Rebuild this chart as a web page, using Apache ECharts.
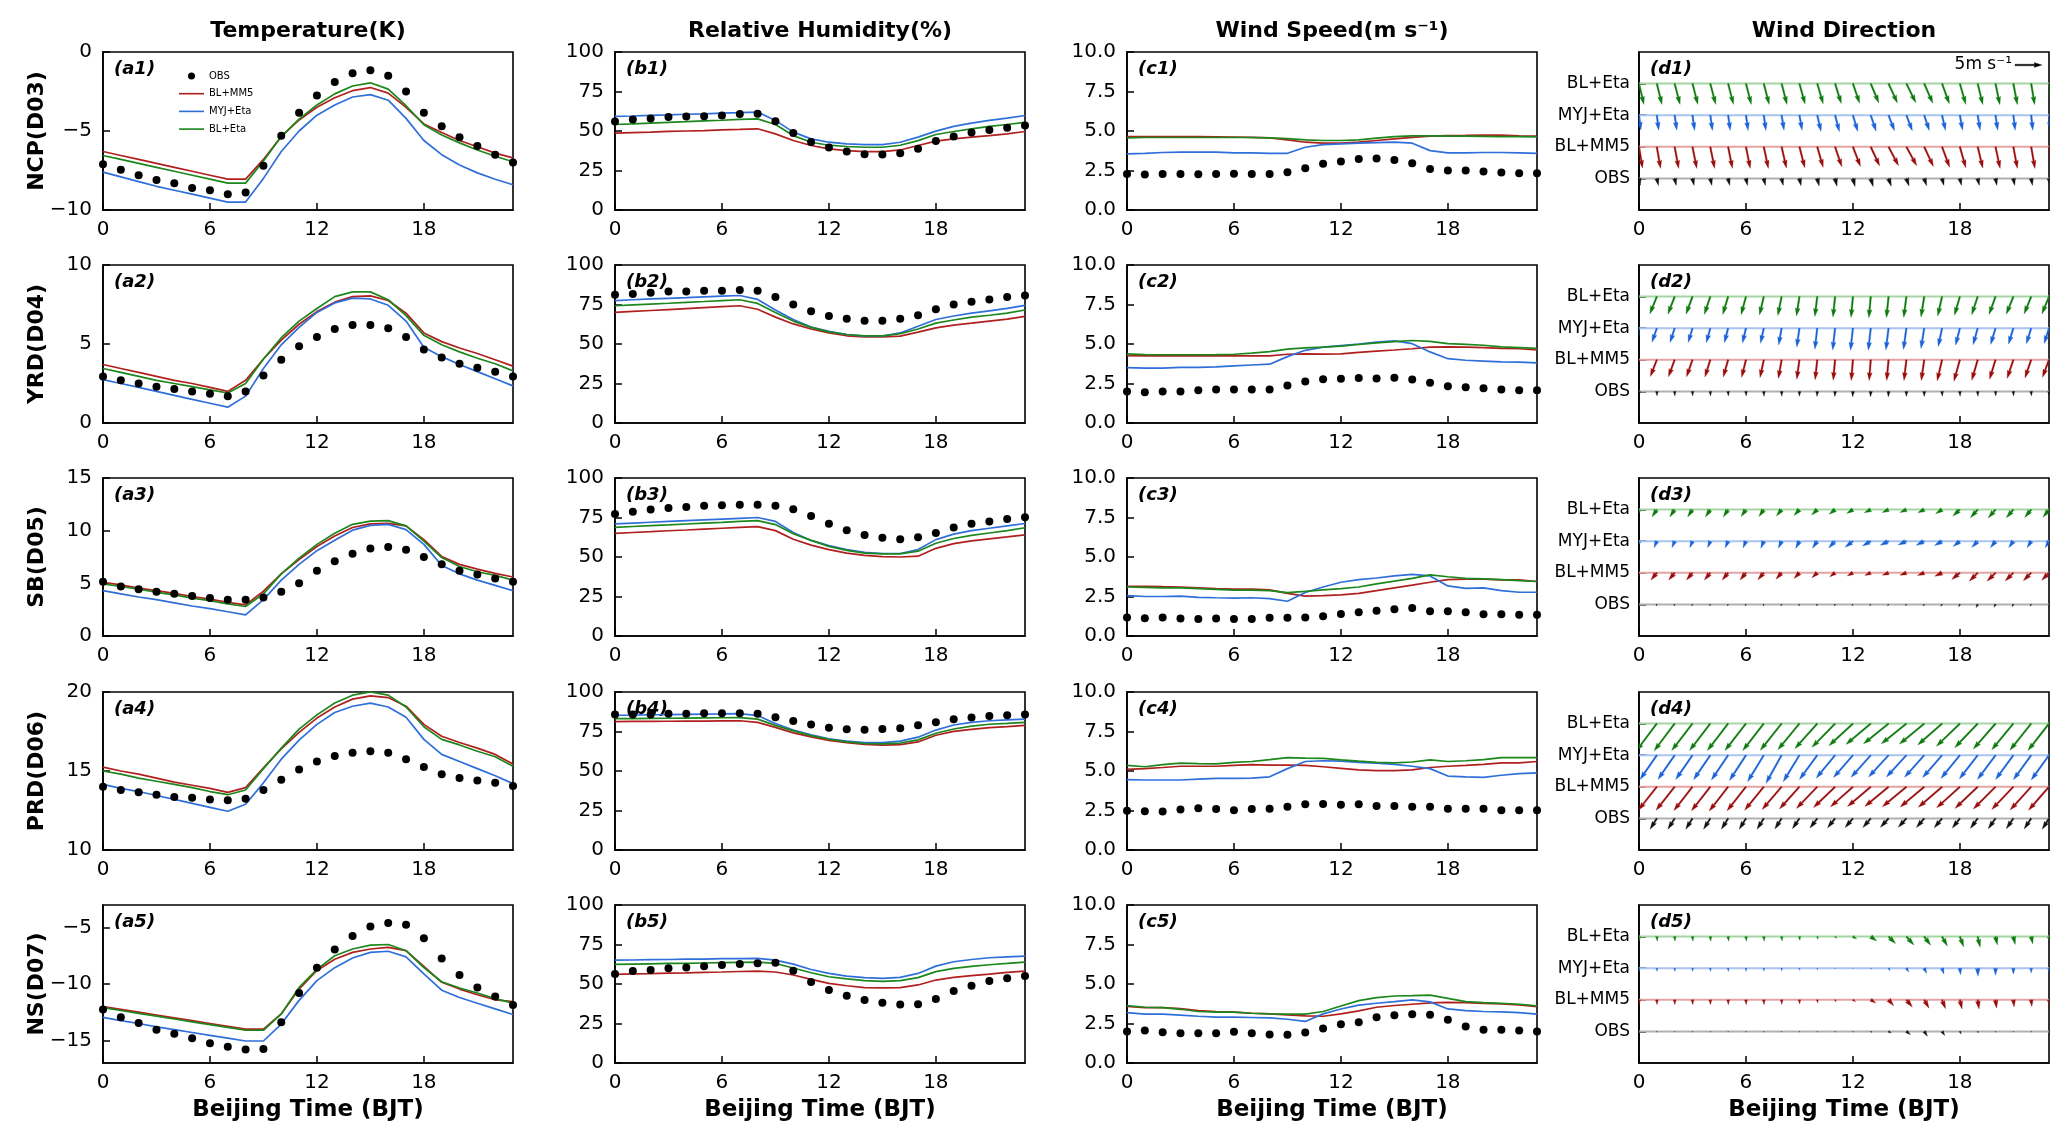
<!DOCTYPE html>
<html><head><meta charset="utf-8">
<script src="https://cdn.jsdelivr.net/npm/echarts@6/dist/echarts.min.js"></script>
<style>html,body{margin:0;padding:0;background:#fff}#c{width:2067px;height:1144px}</style>
</head><body><div id="c"></div>
<script>
// ---------------- DATA ----------------
const hours = [0,1,2,3,4,5,6,7,8,9,10,11,12,13,14,15,16,17,18,19,20,21,22,23];
const regions = ['NCP(D03)','YRD(D04)','SB(D05)','PRD(D06)','NS(D07)'];
const columnTitles = ['Temperature(K)','Relative Humidity(%)','Wind Speed(m s\u207B\u00B9)','Wind Direction'];
const seriesNames = ['OBS','BL+MM5','MYJ+Eta','BL+Eta'];
const panelLetters = ['a','b','c','d'];
const xTicks = [0,6,12,18];
const tempRange = [[-10,0],[0,10],[0,15],[10,20],[-17,-3]];
const tempTicks = [[-10,-5,0],[0,5,10],[0,5,10,15],[10,15,20],[-15,-10,-5]];
const rhTicks = [0,25,50,75,100];
const wsTicks = [0,2.5,5,7.5,10];
const dirLevels = [2,4,6,8];          // OBS, BL+MM5, MYJ+Eta, BL+Eta rows of the wind-direction panels
const keySpeed = 5;                   // reference arrow, m s-1

// Temperature (rows: NCP, YRD, SB, PRD, NS)
const tempObs = [
 [-7.1,-7.45,-7.8,-8.1,-8.3,-8.6,-8.75,-9.0,-8.9,-7.2,-5.3,-3.85,-2.75,-1.9,-1.35,-1.15,-1.5,-2.5,-3.85,-4.7,-5.4,-5.95,-6.5,-7.0],
 [2.95,2.7,2.5,2.3,2.15,2.0,1.85,1.7,2.0,3.0,4.0,4.85,5.45,5.95,6.2,6.2,6.0,5.45,4.65,4.15,3.75,3.5,3.25,2.95],
 [5.15,4.7,4.45,4.2,4.0,3.8,3.6,3.45,3.45,3.65,4.2,5.0,6.2,7.1,7.8,8.3,8.45,8.2,7.5,6.8,6.2,5.85,5.45,5.15],
 [14.0,13.8,13.65,13.5,13.35,13.3,13.2,13.15,13.25,13.8,14.45,15.1,15.6,15.95,16.15,16.25,16.15,15.75,15.25,14.8,14.55,14.4,14.25,14.05],
 [-12.25,-12.95,-13.45,-14.05,-14.4,-14.8,-15.25,-15.55,-15.8,-15.75,-13.4,-10.8,-8.55,-6.95,-5.75,-4.9,-4.6,-4.75,-5.95,-7.75,-9.2,-10.3,-11.1,-11.85]
];
const tempMM5 = [
 [-6.3,-6.55,-6.8,-7.05,-7.3,-7.55,-7.8,-8.05,-8.05,-6.8,-5.35,-4.3,-3.5,-2.9,-2.45,-2.25,-2.6,-3.5,-4.55,-5.1,-5.6,-6.0,-6.4,-6.7],
 [3.7,3.45,3.2,2.95,2.7,2.5,2.25,2.0,2.7,4.05,5.25,6.25,7.05,7.65,8.0,8.05,7.75,6.95,5.7,5.15,4.75,4.4,4.0,3.6],
 [5.1,4.85,4.55,4.3,4.05,3.75,3.5,3.2,2.95,4.25,5.9,7.25,8.5,9.5,10.3,10.65,10.7,10.45,9.15,7.55,6.8,6.35,5.95,5.6],
 [15.25,15.0,14.8,14.55,14.3,14.1,13.9,13.65,13.95,15.2,16.4,17.45,18.35,19.05,19.55,19.75,19.65,19.1,17.95,17.2,16.8,16.45,16.05,15.45],
 [-12.0,-12.25,-12.5,-12.75,-13.0,-13.25,-13.5,-13.75,-14.0,-14.0,-12.65,-10.45,-8.8,-7.8,-7.2,-6.9,-6.75,-7.05,-8.45,-9.85,-10.45,-10.95,-11.4,-11.55]
];
const tempMYJ = [
 [-7.6,-7.9,-8.2,-8.5,-8.75,-9.0,-9.25,-9.5,-9.5,-8.0,-6.3,-5.0,-4.0,-3.35,-2.85,-2.7,-3.05,-4.2,-5.6,-6.5,-7.15,-7.65,-8.05,-8.4],
 [2.75,2.5,2.25,2.0,1.75,1.5,1.25,1.0,1.7,3.45,4.95,6.05,7.0,7.6,7.9,7.85,7.45,6.45,4.8,4.2,3.7,3.25,2.8,2.35],
 [4.3,4.0,3.7,3.45,3.15,2.85,2.6,2.3,2.0,3.45,5.3,6.8,8.1,9.1,10.05,10.5,10.6,10.1,8.7,6.7,5.9,5.3,4.8,4.3],
 [14.15,13.9,13.7,13.45,13.2,12.95,12.7,12.45,12.9,14.25,15.75,16.95,17.95,18.7,19.1,19.3,19.05,18.4,17.0,16.05,15.6,15.15,14.7,14.2],
 [-12.95,-13.25,-13.5,-13.8,-14.05,-14.3,-14.55,-14.8,-15.05,-15.05,-13.55,-11.45,-9.7,-8.55,-7.7,-7.2,-7.1,-7.6,-9.1,-10.55,-11.2,-11.7,-12.2,-12.7]
];
const tempEta = [
 [-6.55,-6.8,-7.05,-7.3,-7.55,-7.8,-8.05,-8.3,-8.3,-6.9,-5.35,-4.25,-3.35,-2.65,-2.15,-1.95,-2.35,-3.4,-4.6,-5.25,-5.75,-6.2,-6.6,-6.95],
 [3.45,3.2,2.95,2.7,2.5,2.3,2.1,1.9,2.5,4.05,5.4,6.45,7.25,8.0,8.3,8.3,7.8,6.8,5.55,4.95,4.5,4.1,3.75,3.3],
 [4.95,4.7,4.45,4.15,3.9,3.6,3.35,3.05,2.8,4.0,5.9,7.4,8.7,9.75,10.6,10.9,10.95,10.45,9.0,7.45,6.6,6.1,5.75,5.3],
 [15.0,14.8,14.55,14.35,14.15,13.95,13.7,13.5,13.8,15.15,16.45,17.65,18.55,19.3,19.8,20.0,19.8,19.05,17.8,17.0,16.65,16.25,15.9,15.3],
 [-12.1,-12.35,-12.6,-12.85,-13.1,-13.35,-13.6,-13.85,-14.1,-14.1,-12.65,-10.3,-8.7,-7.5,-6.9,-6.55,-6.5,-7.05,-8.55,-9.8,-10.35,-10.8,-11.3,-11.7]
];

// Relative humidity
const rhObs = [
 [56,57.3,57.9,58.8,59.2,59.4,59.8,60.7,60.9,56.2,48.8,43.1,39.5,37,35.3,35.1,35.9,38.7,43.6,46.5,49,50.7,52,53.5],
 [81.2,81.7,82.5,83.2,83.2,83.7,83.7,84.2,83.7,79.7,75,70.7,67.7,66,64.7,64.7,66,68.2,72,75,76.7,78.2,79.7,80.7],
 [77.2,78.7,80,81,81.7,82.5,82.7,83,83,82.5,80.2,76,71,67,64,62.2,61.2,62.5,65.2,68.7,71,72.5,74,75.2],
 [85.8,85.8,85.8,86.3,86.3,86.6,86.6,86.6,86.3,84,81.6,79.4,77.4,76.4,76.1,76.6,77.1,78.9,80.8,82.8,83.8,84.8,85.3,85.8],
 [56.3,58.2,58.8,59.9,60.5,61.3,62,62.6,63.2,63.4,58.4,51.3,46.2,42.6,39.9,38.2,37,37.2,40.5,45.6,48.9,51.9,53.6,55]
];
const rhMM5 = [
 [48.6,49,49.3,49.7,50,50.3,50.7,51,51.4,48.2,44,40.8,38.7,37.6,37,37,38,40.8,43.6,45,46.1,47.1,48.2,49.7],
 [70,70.6,71.2,71.8,72.4,73,73.6,74.2,72,67,62.7,59.5,57,55.2,54.5,54.5,55,57.5,60.2,62,63.2,64.5,65.7,67.5],
 [65,65.5,66,66.6,67.1,67.7,68.2,68.7,69.2,66.7,61.2,57.5,54.7,52.5,51,50.2,50,50.5,55.5,58.5,60.2,61.5,62.7,64],
 [81.3,81.4,81.4,81.5,81.6,81.6,81.7,81.8,80.8,77.6,74.1,71.6,69.4,67.9,66.9,66.4,66.7,68.4,72.6,75.1,76.4,77.4,78.1,78.9],
 [56.1,56.4,56.6,56.9,57.1,57.4,57.6,57.9,58.2,57.6,55.7,52.9,50.4,48.9,47.7,47.5,47.7,49.4,52.5,54.2,55.3,56.3,57.4,58.2]
];
const rhMYJ = [
 [59.2,59.5,59.9,60.2,60.6,60.9,61.3,61.6,62,56.7,49.3,45,42.9,41.9,41.4,41.4,42.9,46.1,49.9,52.9,55,56.7,58.1,59.8],
 [77.5,78,78.5,78.9,79.3,79.8,80.3,80.7,78.2,71.5,65.5,60.7,58,56,55,55,57,61.2,65.5,67.7,69.5,71,72.5,74.5],
 [71,71.5,72,72.5,73,73.5,74,74.5,75,72.5,65.5,60.5,57.2,54.7,53,52.2,52.2,54.7,61,64.5,66.7,68.2,69.7,71.2],
 [85.3,85.4,85.6,85.7,85.9,86,86.1,86.3,85.1,80.1,75.9,72.9,70.4,68.9,67.9,67.9,68.9,71.4,75.9,79.1,80.8,81.8,82.3,82.8],
 [65.1,65.2,65.4,65.5,65.7,65.8,66,66.1,66.2,65.1,62.6,59.2,56.7,55,54,53.6,54.2,56.7,61.3,64.1,65.5,66.6,67.2,67.6]
];
const rhEta = [
 [54.1,54.5,55,55.5,55.9,56.4,56.8,57.3,57.7,54.1,47.1,42.9,41,40.2,39.7,39.7,41,43.9,47.8,49.7,51.4,52.9,54.1,55.4],
 [74.2,74.8,75.3,75.8,76.4,76.9,77.5,78,75.7,70,64.5,60.5,57.7,56,55.2,55.2,56.5,59.5,63.2,65.2,67,68.2,69.5,71.5],
 [68.7,69.3,69.8,70.3,70.9,71.4,71.9,72.5,73,70.5,64.7,60.5,56.7,54.2,52.5,52,52,53.7,58.7,61.7,63.7,65.2,66.7,68.5],
 [83.1,83.2,83.3,83.4,83.5,83.6,83.7,83.8,82.8,78.9,75.4,72.4,70.1,68.4,67.4,67.2,67.7,69.7,73.9,76.6,78.4,79.6,80.1,80.8],
 [62.4,62.6,62.8,63,63.1,63.3,63.5,63.7,63.9,63,60.1,57.1,54.6,53.2,52.1,51.7,52.1,54,57.8,59.9,61.1,62.2,63,63.9]
];

// Wind speed
const wsObs = [
 [2.28,2.24,2.28,2.28,2.26,2.28,2.3,2.28,2.28,2.39,2.64,2.92,3.07,3.23,3.26,3.17,2.96,2.6,2.5,2.5,2.43,2.37,2.32,2.32],
 [2.0,1.95,2.0,2.0,2.07,2.12,2.12,2.12,2.12,2.37,2.62,2.77,2.8,2.85,2.82,2.87,2.75,2.55,2.32,2.27,2.2,2.12,2.07,2.07],
 [1.17,1.12,1.17,1.1,1.07,1.1,1.07,1.07,1.15,1.15,1.17,1.25,1.4,1.5,1.6,1.7,1.77,1.57,1.57,1.5,1.37,1.37,1.35,1.35],
 [2.49,2.46,2.44,2.56,2.64,2.59,2.51,2.59,2.61,2.74,2.89,2.91,2.86,2.89,2.79,2.79,2.74,2.74,2.61,2.61,2.61,2.51,2.51,2.51],
 [2.0,2.06,1.95,1.89,1.89,1.89,1.97,1.89,1.81,1.79,1.93,2.18,2.46,2.58,2.9,3.03,3.09,3.05,2.73,2.31,2.1,2.1,2.06,2.0]
];
const wsMM5 = [
 [4.65,4.65,4.65,4.64,4.64,4.63,4.62,4.6,4.57,4.44,4.29,4.23,4.23,4.29,4.4,4.5,4.6,4.67,4.71,4.72,4.74,4.74,4.7,4.67],
 [4.27,4.25,4.25,4.25,4.25,4.25,4.25,4.25,4.25,4.35,4.37,4.36,4.37,4.47,4.55,4.62,4.7,4.8,4.82,4.8,4.77,4.72,4.7,4.62],
 [3.15,3.15,3.12,3.1,3.05,3.0,2.97,2.97,2.92,2.7,2.52,2.55,2.6,2.7,2.87,3.05,3.22,3.4,3.57,3.6,3.6,3.55,3.55,3.45],
 [5.1,5.15,5.22,5.3,5.3,5.3,5.35,5.4,5.37,5.37,5.35,5.27,5.17,5.07,5.02,5.02,5.07,5.22,5.3,5.35,5.42,5.52,5.52,5.6],
 [3.59,3.51,3.51,3.45,3.32,3.26,3.22,3.15,3.11,3.05,2.98,2.96,3.11,3.3,3.53,3.64,3.72,3.8,3.84,3.82,3.78,3.74,3.68,3.57]
];
const wsMYJ = [
 [3.55,3.59,3.64,3.66,3.66,3.66,3.62,3.62,3.59,3.59,3.97,4.14,4.19,4.23,4.27,4.29,4.23,3.76,3.62,3.62,3.64,3.64,3.62,3.59],
 [3.5,3.47,3.47,3.52,3.52,3.55,3.62,3.67,3.72,4.2,4.6,4.8,4.9,5.0,5.12,5.2,5.02,4.5,4.07,3.97,3.92,3.87,3.85,3.8],
 [2.55,2.5,2.5,2.52,2.45,2.42,2.4,2.42,2.37,2.2,2.75,3.1,3.4,3.57,3.67,3.8,3.9,3.8,3.17,3.02,3.05,2.87,2.77,2.77],
 [4.45,4.43,4.43,4.43,4.48,4.53,4.53,4.55,4.63,5.15,5.6,5.65,5.62,5.55,5.5,5.42,5.3,5.15,4.68,4.63,4.6,4.73,4.83,4.88],
 [3.19,3.09,3.09,3.03,2.96,2.9,2.9,2.88,2.86,2.77,2.63,3.11,3.42,3.66,3.78,3.88,3.99,3.87,3.42,3.32,3.26,3.24,3.19,3.09]
];
const wsEta = [
 [4.57,4.59,4.59,4.59,4.59,4.59,4.59,4.59,4.57,4.52,4.44,4.4,4.4,4.44,4.55,4.65,4.69,4.69,4.67,4.67,4.66,4.65,4.64,4.63],
 [4.37,4.33,4.32,4.32,4.32,4.33,4.35,4.42,4.52,4.67,4.75,4.8,4.87,4.97,5.07,5.15,5.22,5.17,5.02,4.97,4.92,4.82,4.77,4.72],
 [3.1,3.08,3.05,3.04,3.0,2.95,2.9,2.9,2.87,2.75,2.82,2.92,3.0,3.1,3.3,3.47,3.65,3.87,3.75,3.65,3.62,3.57,3.5,3.45],
 [5.35,5.27,5.4,5.5,5.47,5.45,5.55,5.6,5.72,5.85,5.82,5.8,5.7,5.62,5.55,5.52,5.57,5.7,5.6,5.65,5.72,5.85,5.85,5.85],
 [3.63,3.53,3.51,3.4,3.26,3.22,3.22,3.15,3.11,3.09,3.09,3.26,3.61,3.95,4.14,4.24,4.26,4.3,4.09,3.88,3.82,3.78,3.72,3.61]
];

// Mean wind vectors (u eastward, v northward; m s-1)
const uObs = [
 [0.25,0.3,0.3,0.3,0.3,0.3,0.3,0.3,0.3,0.3,0.35,0.35,0.4,0.45,0.5,0.5,0.45,0.35,0.3,0.3,0.25,0.25,0.25,0.25],
 [0.05,0.05,0.05,0.05,0.05,0.05,0.05,0.05,0.05,0,-0.05,-0.05,-0.05,-0.05,-0.05,0,0,0.05,0.05,0.05,0.05,0.05,0.05,0.05],
 [-0.15,-0.15,-0.15,-0.15,-0.15,-0.15,-0.15,-0.15,-0.15,-0.15,-0.15,-0.15,-0.2,-0.2,-0.2,-0.2,-0.2,-0.25,-0.25,-0.3,-0.3,-0.25,-0.2,-0.15],
 [-1.25,-1.25,-1.25,-1.25,-1.25,-1.25,-1.25,-1.25,-1.25,-1.3,-1.35,-1.4,-1.45,-1.45,-1.5,-1.5,-1.45,-1.45,-1.4,-1.35,-1.35,-1.3,-1.3,-1.25],
 [0,0,0,0,0,0,0,0,0,0,0,0.05,0.1,0.2,0.5,0.75,0.6,0.5,0.25,0.1,0.05,0.05,0,0]
];
const vObs = [
 [-1.3,-1.3,-1.3,-1.3,-1.3,-1.3,-1.3,-1.3,-1.3,-1.35,-1.4,-1.45,-1.5,-1.5,-1.45,-1.4,-1.35,-1.3,-1.3,-1.3,-1.3,-1.3,-1.3,-1.3],
 [-0.85,-0.85,-0.85,-0.85,-0.85,-0.85,-0.85,-0.9,-0.9,-0.9,-0.95,-0.95,-1.0,-1.0,-1.0,-0.95,-0.95,-0.9,-0.9,-0.9,-0.85,-0.85,-0.85,-0.85],
 [-0.3,-0.3,-0.3,-0.3,-0.3,-0.3,-0.3,-0.3,-0.3,-0.3,-0.3,-0.3,-0.25,-0.25,-0.25,-0.25,-0.3,-0.35,-0.45,-0.6,-0.55,-0.45,-0.35,-0.3],
 [-2.0,-2.0,-2.0,-2.0,-2.0,-2.0,-2.0,-2.0,-1.95,-1.9,-1.8,-1.75,-1.7,-1.7,-1.65,-1.65,-1.7,-1.75,-1.8,-1.85,-1.9,-1.9,-1.95,-2.0],
 [-0.15,-0.15,-0.15,-0.15,-0.15,-0.15,-0.15,-0.15,-0.15,-0.15,-0.15,-0.15,-0.15,-0.2,-0.3,-0.6,-0.9,-0.75,-0.5,-0.3,-0.2,-0.15,-0.15,-0.15]
];
const uMM5 = [
 [0.65,0.7,0.75,0.8,0.8,0.8,0.8,0.85,0.9,1.0,1.1,1.25,1.4,1.65,1.85,1.9,1.7,1.4,1.1,0.95,0.85,0.75,0.7,0.65],
 [-1.2,-1.2,-1.15,-1.1,-1.0,-0.9,-0.8,-0.7,-0.6,-0.5,-0.4,-0.35,-0.3,-0.3,-0.35,-0.45,-0.55,-0.9,-1.1,-1.1,-1.1,-1.15,-1.15,-1.2],
 [-1.1,-1.1,-1.1,-1.1,-1.1,-1.1,-1.1,-1.1,-1.05,-1.0,-1.0,-1.0,-1.05,-1.1,-1.15,-1.2,-1.25,-1.35,-1.5,-1.55,-1.55,-1.5,-1.45,-1.35],
 [-3.4,-3.4,-3.45,-3.45,-3.5,-3.5,-3.5,-3.55,-3.6,-3.7,-3.85,-4.0,-4.15,-4.3,-4.4,-4.45,-4.45,-4.4,-4.3,-4.2,-4.1,-4.0,-3.9,-3.8],
 [0.05,0.05,0.05,0.05,0.05,0.05,0.05,0.05,0.05,0.05,0.1,0.2,0.5,0.95,0.95,1.1,0.9,0.65,0.4,0.25,0.2,0.15,0.12,0.1]
];
const vMM5 = [
 [-3.95,-4.0,-4.0,-4.0,-4.0,-4.0,-4.0,-4.0,-3.95,-3.9,-3.8,-3.7,-3.65,-3.55,-3.5,-3.5,-3.65,-3.8,-3.9,-3.95,-4.0,-4.0,-4.0,-3.95],
 [-3.1,-3.1,-3.15,-3.15,-3.2,-3.2,-3.25,-3.3,-3.45,-3.6,-3.7,-3.8,-3.85,-3.85,-3.85,-3.85,-3.85,-3.9,-3.95,-3.8,-3.6,-3.45,-3.35,-3.25],
 [-1.35,-1.35,-1.35,-1.35,-1.35,-1.35,-1.35,-1.3,-1.2,-1.05,-0.9,-0.75,-0.6,-0.5,-0.45,-0.45,-0.5,-0.65,-1.25,-1.55,-1.55,-1.5,-1.45,-1.4],
 [-4.3,-4.3,-4.35,-4.4,-4.45,-4.5,-4.45,-4.35,-4.2,-4.1,-4.0,-3.85,-3.7,-3.65,-3.65,-3.7,-3.75,-3.8,-3.9,-4.0,-4.1,-4.2,-4.3,-4.35],
 [-0.9,-0.9,-0.9,-0.9,-0.9,-0.9,-0.9,-0.9,-0.85,-0.8,-0.6,-0.4,-0.35,-0.6,-1.1,-1.35,-1.55,-1.65,-1.7,-1.7,-1.55,-1.35,-1.25,-1.1]
];
const uMYJ = [
 [0.35,0.35,0.4,0.4,0.4,0.4,0.4,0.4,0.45,0.5,0.7,0.8,0.9,1.0,1.1,1.1,0.95,0.65,0.5,0.45,0.4,0.35,0.3,0.3],
 [-0.9,-0.9,-0.85,-0.8,-0.75,-0.7,-0.65,-0.6,-0.55,-0.5,-0.45,-0.45,-0.45,-0.45,-0.5,-0.55,-0.6,-0.7,-0.8,-0.85,-0.9,-0.9,-0.9,-0.9],
 [-0.5,-0.5,-0.5,-0.5,-0.5,-0.55,-0.55,-0.55,-0.6,-0.7,-0.9,-1.2,-1.45,-1.55,-1.55,-1.55,-1.5,-1.4,-1.25,-1.1,-0.95,-0.85,-0.75,-0.7],
 [-3.1,-3.1,-3.1,-3.1,-3.1,-3.1,-3.05,-3.0,-2.9,-3.0,-3.3,-3.5,-3.6,-3.65,-3.7,-3.7,-3.65,-3.6,-3.5,-3.4,-3.35,-3.3,-3.3,-3.3],
 [0.05,0.05,0.05,0.05,0.05,0.05,0.05,0.05,0.05,0.05,0.05,0.05,0.05,0.1,0.3,0.45,0.45,0.35,0.15,0.05,0,0,0,0]
];
const vMYJ = [
 [-2.75,-2.8,-2.8,-2.85,-2.85,-2.85,-2.85,-2.85,-2.8,-2.8,-3.0,-3.05,-3.0,-2.95,-2.9,-2.9,-2.85,-2.85,-2.8,-2.8,-2.8,-2.8,-2.8,-2.8],
 [-2.6,-2.6,-2.65,-2.65,-2.7,-2.7,-2.75,-2.8,-3.1,-3.5,-3.9,-4.05,-4.1,-4.1,-4.05,-3.95,-3.75,-3.4,-3.15,-3.05,-3.0,-2.95,-2.9,-2.85],
 [-1.2,-1.2,-1.2,-1.2,-1.2,-1.25,-1.25,-1.3,-1.3,-1.35,-1.3,-1.25,-1.1,-0.9,-0.75,-0.7,-0.75,-0.8,-1.0,-1.15,-1.2,-1.2,-1.2,-1.2],
 [-4.5,-4.5,-4.5,-4.5,-4.55,-4.6,-4.7,-4.9,-5.2,-4.9,-4.5,-4.25,-4.15,-4.1,-4.05,-4.05,-4.1,-4.15,-4.3,-4.4,-4.5,-4.5,-4.55,-4.6],
 [-0.6,-0.6,-0.6,-0.6,-0.6,-0.6,-0.6,-0.55,-0.5,-0.4,-0.3,-0.15,-0.1,-0.2,-0.45,-0.7,-1.0,-1.1,-1.2,-1.5,-1.3,-1.1,-0.9,-0.75]
];
const uEta = [
 [0.9,0.95,1.0,1.0,1.0,1.0,1.0,1.0,1.0,1.05,1.1,1.15,1.25,1.5,1.65,1.75,1.6,1.35,1.1,0.95,0.8,0.75,0.65,0.6],
 [-1.3,-1.3,-1.25,-1.2,-1.1,-1.0,-0.9,-0.8,-0.7,-0.55,-0.45,-0.4,-0.35,-0.35,-0.4,-0.5,-0.6,-0.8,-1.0,-1.1,-1.2,-1.3,-1.3,-1.3],
 [-0.9,-0.9,-0.9,-0.9,-0.9,-0.9,-0.9,-0.9,-0.95,-1.0,-1.05,-1.1,-1.15,-1.2,-1.2,-1.2,-1.2,-1.2,-1.3,-1.35,-1.35,-1.3,-1.2,-1.1],
 [-3.8,-3.8,-3.8,-3.85,-3.85,-3.85,-3.9,-3.9,-3.95,-4.0,-4.15,-4.3,-4.45,-4.6,-4.65,-4.65,-4.6,-4.5,-4.35,-4.25,-4.1,-4.0,-3.95,-3.9],
 [0.1,0.1,0.1,0.1,0.1,0.1,0.1,0.1,0.1,0.1,0.15,0.3,0.7,1.1,1.3,1.4,1.2,1.0,0.7,0.45,0.35,0.35,0.3,0.2]
];
const vEta = [
 [-3.85,-3.85,-3.85,-3.85,-3.85,-3.85,-3.85,-3.85,-3.85,-3.8,-3.75,-3.7,-3.65,-3.6,-3.6,-3.55,-3.65,-3.75,-3.85,-3.9,-3.9,-3.9,-3.9,-3.9],
 [-3.2,-3.2,-3.25,-3.25,-3.3,-3.3,-3.35,-3.4,-3.5,-3.6,-3.7,-3.8,-3.85,-3.9,-3.9,-3.85,-3.8,-3.6,-3.45,-3.35,-3.3,-3.25,-3.2,-3.2],
 [-1.35,-1.35,-1.35,-1.35,-1.35,-1.35,-1.3,-1.3,-1.2,-1.1,-1.0,-0.85,-0.7,-0.6,-0.55,-0.55,-0.6,-0.75,-1.2,-1.5,-1.55,-1.5,-1.45,-1.4],
 [-5.05,-5.05,-5.05,-5.0,-5.0,-5.0,-5.0,-5.0,-4.95,-4.85,-4.65,-4.4,-4.1,-3.85,-3.75,-3.75,-3.8,-3.95,-4.2,-4.45,-4.7,-4.85,-4.95,-5.0],
 [-0.85,-0.85,-0.85,-0.85,-0.85,-0.85,-0.85,-0.85,-0.8,-0.7,-0.5,-0.3,-0.45,-0.8,-1.3,-1.55,-1.6,-1.75,-1.9,-1.95,-1.55,-1.45,-1.35,-1.1]
];

// ---------------- LAYOUT / STYLE ----------------
const FONT = 'DejaVu Sans';
const colLeft = [103, 615, 1127, 1639];
const rowTop = [52, 265, 478, 692, 905];
const GW = 410, GH = 158;
const lineColors = ['#000000', '#b0201e', '#2f6fda', '#1c871c'];
const arrowColors = ['#111111', '#9a0c0c', '#1a62d6', '#0d7a0d'];
const levelColors = ['#b0b0b0', '#e4a4a4', '#a9c4f0', '#a4d6a4'];
const PX_PER_MS = 5.4;   // quiver scale: pixels per m s-1
const LINE_ICON = 'path://M0,0 L40,0 L40,2.6 L0,2.6 Z';

function fmtNum(v) { return String(v).replace('-', '\u2212'); }

// quiver arrow polygon (matplotlib-like shape), pivot at tail
function arrowPoly(x0, y0, dx, dy) {
  const L = Math.hypot(dx, dy);
  if (L < 0.4) return [];
  const w = 1.6, hl = 5 * w, hal = 4.5 * w, hw = 3 * w;
  let s = 1, Ls = L;
  if (L < hl) { s = L / hl; Ls = hl; }
  const loc = [[0, -w/2], [Ls - hal, -w/2], [Ls - hl, -hw/2], [Ls, 0], [Ls - hl, hw/2], [Ls - hal, w/2], [0, w/2]];
  const c = dx / L, sn = dy / L;
  return loc.map(p => [x0 + s * (p[0] * c - p[1] * sn), y0 + s * (p[0] * sn + p[1] * c)]);
}
function clipEdge(pts, inside, inter) {
  const out = [];
  for (let i = 0; i < pts.length; i++) {
    const cur = pts[i], prev = pts[(i + pts.length - 1) % pts.length];
    const ci = inside(cur), pi = inside(prev);
    if (ci) { if (!pi) out.push(inter(prev, cur)); out.push(cur); }
    else if (pi) out.push(inter(prev, cur));
  }
  return out;
}
function ix(a, b, x) { const t = (x - a[0]) / (b[0] - a[0]); return [x, a[1] + t * (b[1] - a[1])]; }
function iy(a, b, y) { const t = (y - a[1]) / (b[1] - a[1]); return [a[0] + t * (b[0] - a[0]), y]; }
function clipRect(pts, r) {
  let p = pts;
  if (p.length) p = clipEdge(p, q => q[0] >= r.x, (a, b) => ix(a, b, r.x));
  if (p.length) p = clipEdge(p, q => q[0] <= r.x + r.width, (a, b) => ix(a, b, r.x + r.width));
  if (p.length) p = clipEdge(p, q => q[1] >= r.y, (a, b) => iy(a, b, r.y));
  if (p.length) p = clipEdge(p, q => q[1] <= r.y + r.height, (a, b) => iy(a, b, r.y + r.height));
  return p;
}

const grids = [], xAxes = [], yAxes = [], series = [], graphics = [];
const baseAxisLine = { onZero: false, lineStyle: { color: '#000', width: 1.6 } };

for (let r = 0; r < 5; r++) {
  for (let c = 0; c < 4; c++) {
    const g = r * 4 + c;
    grids.push({ left: colLeft[c], top: rowTop[r], width: GW, height: GH, show: true, borderColor: '#000', borderWidth: 1.6, backgroundColor: 'transparent' });
    xAxes.push({
      gridIndex: g, type: 'value', min: 0, max: 23,
      axisLine: baseAxisLine,
      axisTick: { inside: true, length: 7, lineStyle: { color: '#000', width: 1.5 }, customValues: xTicks },
      axisLabel: { customValues: xTicks, fontSize: 20, color: '#000', margin: 10, fontFamily: FONT },
      splitLine: { show: false },
      name: r === 4 ? 'Beijing Time (BJT)' : '',
      nameLocation: 'middle', nameGap: 36,
      nameTextStyle: { fontSize: 23, fontWeight: 'bold', color: '#000', fontFamily: FONT }
    });
    let ymin, ymax, yt, fmt, lblSize = 20, lblMargin = 11;
    if (c === 0) { ymin = tempRange[r][0]; ymax = tempRange[r][1]; yt = tempTicks[r]; fmt = v => fmtNum(v); }
    else if (c === 1) { ymin = 0; ymax = 100; yt = rhTicks; fmt = v => String(v); }
    else if (c === 2) { ymin = 0; ymax = 10; yt = wsTicks; fmt = v => Number(v).toFixed(1); }
    else { ymin = 0; ymax = 10; yt = dirLevels; fmt = v => { const k = dirLevels.indexOf(Number(v)); return k >= 0 ? seriesNames[k] : ''; }; lblSize = 17; lblMargin = 9; }
    yAxes.push({
      gridIndex: g, type: 'value', min: ymin, max: ymax,
      axisLine: baseAxisLine,
      axisTick: { inside: true, length: 7, lineStyle: { color: '#000', width: 1.5 }, customValues: yt },
      axisLabel: { customValues: yt, fontSize: lblSize, color: '#000', margin: lblMargin, fontFamily: FONT, formatter: fmt },
      splitLine: { show: false }
    });

    // panel label
    graphics.push({ type: 'text', left: colLeft[c] + 11, top: rowTop[r] + 8,
      style: { text: '(' + panelLetters[c] + (r + 1) + ')', fontSize: 18, fontWeight: 'bold', fontStyle: 'italic', fontFamily: FONT, fill: '#000' } });

    if (c < 3) {
      const sets = c === 0 ? [tempObs, tempMM5, tempMYJ, tempEta] : c === 1 ? [rhObs, rhMM5, rhMYJ, rhEta] : [wsObs, wsMM5, wsMYJ, wsEta];
      [1, 2, 3].forEach(m => {
        series.push({
          type: 'line', name: seriesNames[m], xAxisIndex: g, yAxisIndex: g,
          data: hours.map((h, i) => [h, sets[m][r][i]]),
          symbol: 'none', showSymbol: false, silent: true, clip: true,
          lineStyle: { color: lineColors[m], width: 1.7 }, itemStyle: { color: lineColors[m] }, z: 2 + m
        });
      });
      series.push({
        type: 'scatter', name: seriesNames[0], xAxisIndex: g, yAxisIndex: g,
        data: hours.map((h, i) => [h, sets[0][r][i]]),
        symbol: 'circle', symbolSize: 8, silent: true, clip: false,
        itemStyle: { color: '#000', opacity: 1 }, z: 6
      });
    } else {
      const us = [uObs, uMM5, uMYJ, uEta], vs = [vObs, vMM5, vMYJ, vEta];
      [0, 1, 2, 3].forEach(m => {
        series.push({
          type: 'line', name: seriesNames[m] + ' level', xAxisIndex: g, yAxisIndex: g,
          data: [[hours[0], dirLevels[m]], [hours[hours.length - 1], dirLevels[m]]],
          symbol: 'none', silent: true, lineStyle: { color: levelColors[m], width: 2 }, z: 2
        });
        const col = arrowColors[m];
        series.push({
          type: 'custom', name: seriesNames[m] + ' wind', xAxisIndex: g, yAxisIndex: g, silent: true, z: 3,
          data: hours.map((h, i) => [h, dirLevels[m], us[m][r][i], vs[m][r][i]]),
          encode: { x: 0, y: 1 },
          renderItem: function (params, api) {
            const p = api.coord([api.value(0), api.value(1)]);
            const pts = clipRect(arrowPoly(p[0], p[1], api.value(2) * PX_PER_MS, -api.value(3) * PX_PER_MS), params.coordSys);
            if (pts.length < 3) return { type: 'group', children: [] };
            return { type: 'polygon', shape: { points: pts }, style: { fill: col, stroke: col, lineWidth: 0.3 } };
          }
        });
      });
    }
  }
  // row label
  graphics.push({ type: 'text', x: 37, y: rowTop[r] + GH / 2, rotation: Math.PI / 2,
    style: { text: regions[r], fontSize: 22, fontWeight: 'bold', fontFamily: FONT, fill: '#000', align: 'center', verticalAlign: 'middle' } });
}
// column titles
for (let c = 0; c < 4; c++) {
  graphics.push({ type: 'text', x: colLeft[c] + GW / 2, y: 31,
    style: { text: columnTitles[c], fontSize: 22, fontWeight: 'bold', fontFamily: FONT, fill: '#000', align: 'center', verticalAlign: 'middle' } });
}
// quiver key in d1
const keyY = 65, keyX = 2015;
graphics.push({ type: 'text', x: keyX - 3, y: keyY,
  style: { text: '5m s\u207B\u00B9', fontSize: 17, fontFamily: FONT, fill: '#000', align: 'right', verticalAlign: 'middle' } });
graphics.push({ type: 'polygon', shape: { points: arrowPoly(keyX, keyY, keySpeed * PX_PER_MS, 0) }, style: { fill: '#000', stroke: '#000', lineWidth: 0.3 }, z: 10 });

const option = {
  backgroundColor: '#fff',
  animation: false,
  textStyle: { fontFamily: FONT },
  grid: grids, xAxis: xAxes, yAxis: yAxes, series: series,
  legend: {
    left: 174, top: 65, orient: 'vertical', itemWidth: 25, itemHeight: 7, itemGap: 5.7,
    data: [
      { name: 'OBS', icon: 'circle' },
      { name: 'BL+MM5', icon: LINE_ICON },
      { name: 'MYJ+Eta', icon: LINE_ICON },
      { name: 'BL+Eta', icon: LINE_ICON }
    ],
    textStyle: { fontSize: 10, lineHeight: 12, color: '#000', fontFamily: FONT },
    selectedMode: false
  },
  graphic: graphics
};
const chart = echarts.init(document.getElementById('c'), null, { renderer: 'canvas' });
chart.setOption(option);
</script></body></html>
